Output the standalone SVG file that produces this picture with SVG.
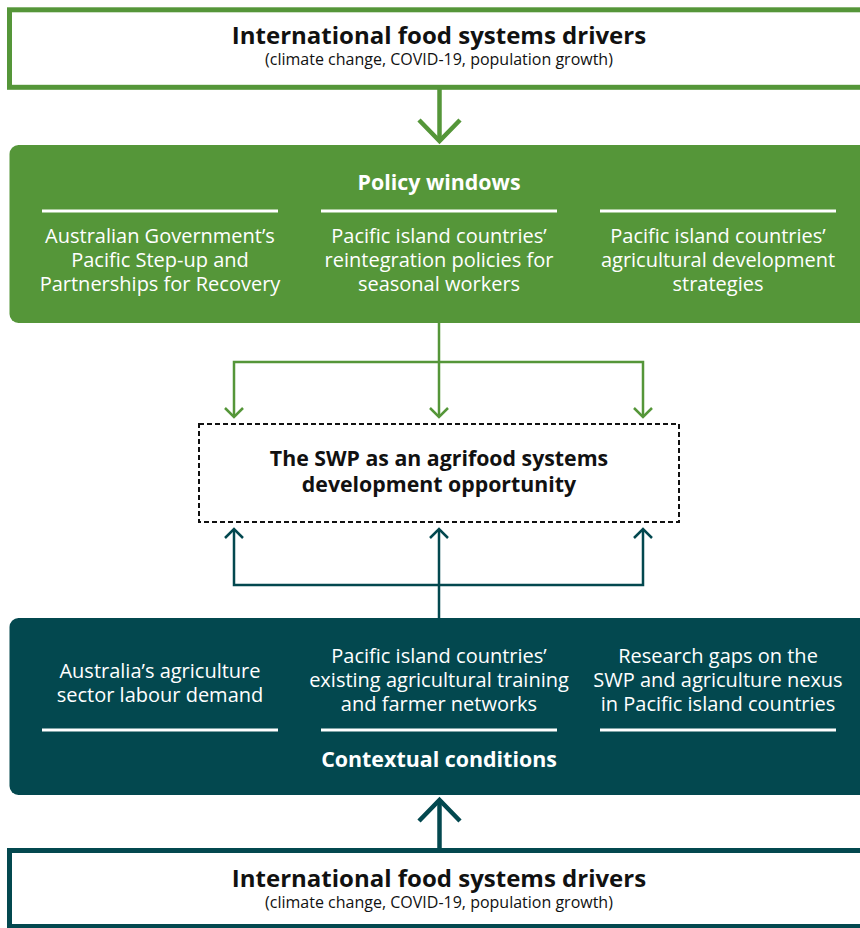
<svg xmlns="http://www.w3.org/2000/svg" width="860" height="928" viewBox="0 0 860 928">
<style>
text{font-family:"Open Sans","Liberation Sans",sans-serif;text-anchor:middle}
.t{font-size:24px;font-weight:bold;fill:#111}
.s{font-size:16px;fill:#111}
.w{font-size:20px;fill:#fff}
.wb{font-size:21.4px;font-weight:bold;fill:#fff}
.b{font-size:21.3px;font-weight:bold;fill:#111}
.sep{stroke:#fff;stroke-width:2.8}
.g{stroke:#559639;fill:none}
.d{stroke:#03484f;fill:none}
</style>
<rect width="860" height="928" fill="#fff"/>
<g id="top-drivers">
<rect x="9.5" y="9.8" width="900" height="77.5" fill="#fff" stroke="#559639" stroke-width="5"/>
<text class="t" x="439" y="44">International food systems drivers</text>
<text class="s" x="439" y="65">(climate change, COVID-19, population growth)</text>
</g>
<g id="policy-windows">
<rect x="9.5" y="145" width="900" height="178" rx="9" fill="#559639"/>
<text class="wb" x="439" y="190">Policy windows</text>
<line class="sep" x1="42" y1="211" x2="278" y2="211"/>
<line class="sep" x1="321" y1="211" x2="557" y2="211"/>
<line class="sep" x1="600" y1="211" x2="836" y2="211"/>
<text class="w" x="160" y="243">Australian Government’s</text>
<text class="w" x="160" y="267">Pacific Step-up and</text>
<text class="w" x="160" y="291">Partnerships for Recovery</text>
<text class="w" x="439" y="243">Pacific island countries’</text>
<text class="w" x="439" y="267">reintegration policies for</text>
<text class="w" x="439" y="291">seasonal workers</text>
<text class="w" x="718" y="243">Pacific island countries’</text>
<text class="w" x="718" y="267">agricultural development</text>
<text class="w" x="718" y="291">strategies</text>
</g>
<g id="swp-opportunity">
<rect x="199" y="424" width="480" height="98" fill="#fff" stroke="#111" stroke-width="2" stroke-dasharray="5 3"/>
<text class="b" x="439" y="466">The SWP as an agrifood systems</text>
<text class="b" x="439" y="492">development opportunity</text>
</g>
<g id="contextual-conditions">
<rect x="9.5" y="618" width="900" height="177" rx="9" fill="#03484f"/>
<text class="w" x="160" y="678">Australia’s agriculture</text>
<text class="w" x="160" y="702">sector labour demand</text>
<text class="w" x="439" y="663">Pacific island countries’</text>
<text class="w" x="439" y="687">existing agricultural training</text>
<text class="w" x="439" y="711">and farmer networks</text>
<text class="w" x="718" y="663">Research gaps on the</text>
<text class="w" x="718" y="687">SWP and agriculture nexus</text>
<text class="w" x="718" y="711">in Pacific island countries</text>
<line class="sep" x1="42" y1="730" x2="278" y2="730"/>
<line class="sep" x1="321" y1="730" x2="557" y2="730"/>
<line class="sep" x1="600" y1="730" x2="836" y2="730"/>
<text class="wb" x="439" y="767">Contextual conditions</text>
</g>
<g id="bottom-drivers">
<rect x="9.5" y="850.5" width="900" height="76" fill="#fff" stroke="#03484f" stroke-width="5"/>
<text class="t" x="439" y="887">International food systems drivers</text>
<text class="s" x="439" y="908">(climate change, COVID-19, population growth)</text>
</g>
<g id="connectors">
<line class="g" x1="439.5" y1="89" x2="439.5" y2="141" stroke-width="4.5"/>
<polyline class="g" points="419,120 439.5,141 460,120" stroke-width="4.5"/>
<path class="g" d="M439 323V416M234 416V362H643V416" stroke-width="2.5"/>
<polyline class="g" points="225,408 234,417 243,408" stroke-width="2.5"/>
<polyline class="g" points="430,408 439,417 448,408" stroke-width="2.5"/>
<polyline class="g" points="634,408 643,417 652,408" stroke-width="2.5"/>
<path class="d" d="M439 618V530M234 530V585H643V530" stroke-width="2.5"/>
<polyline class="d" points="225,538 234,529 243,538" stroke-width="2.5"/>
<polyline class="d" points="430,538 439,529 448,538" stroke-width="2.5"/>
<polyline class="d" points="634,538 643,529 652,538" stroke-width="2.5"/>
<line class="d" x1="439.5" y1="849" x2="439.5" y2="800" stroke-width="4.5"/>
<polyline class="d" points="419,821 439.5,800 460,821" stroke-width="4.5"/>
</g>
</svg>
